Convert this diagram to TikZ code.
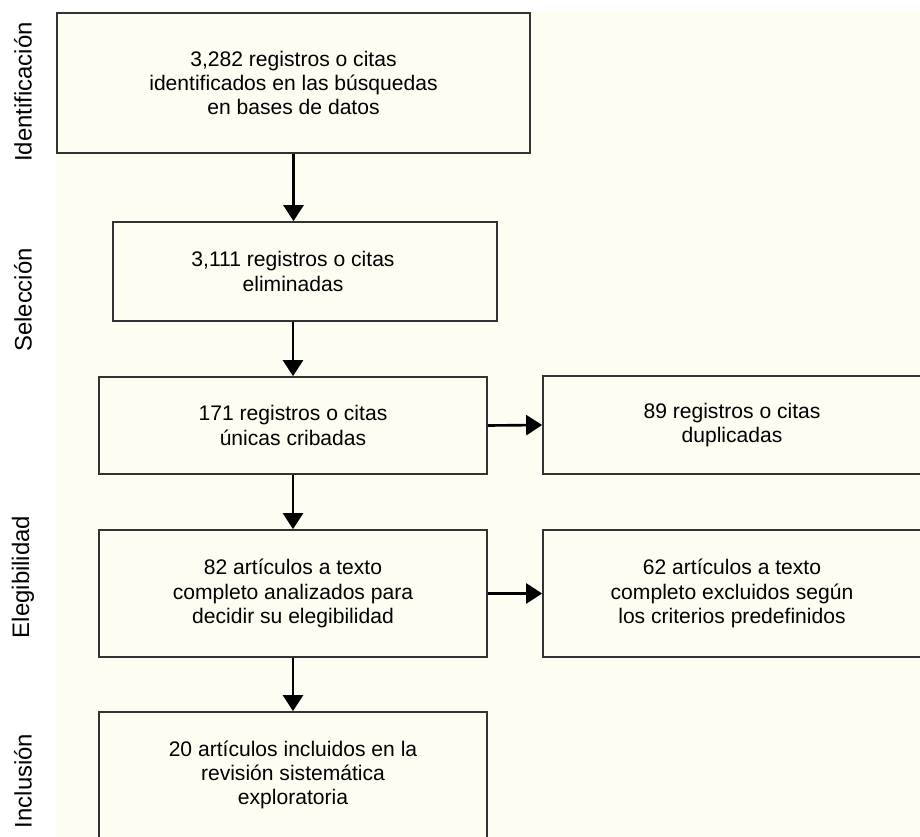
\documentclass[tikz,border=0pt]{standalone}
\usepackage{fontspec}
\setmainfont{Liberation Sans}
\usetikzlibrary{arrows.meta, positioning, calc}
\definecolor{creambg}{HTML}{FEFDF1}
\definecolor{boxline}{HTML}{333333}

\tikzset{
  stagetext/.style={align=center, inner sep=0pt, font=\fontsize{12}{13.8}\selectfont},
  stagebox/.style={stagetext, draw=boxline, line width=1pt, rectangle},
  phase/.style={rotate=90, inner sep=0pt, font=\fontsize{13.6}{16}\selectfont},
  flow/.style={-{Triangle[length=0.32cm, width=0.4cm]}, line width=1.5pt},
}

\begin{document}
\begin{tikzpicture}[x=0.02cm, y=-0.02cm]

% page and cream background
\useasboundingbox (0,0) rectangle (920,837);
\fill[creambg] (56,11) rectangle (920,837);

% left column of stages
\node (ident) [stagebox, minimum width=9.46cm, minimum height=2.8cm] at (293.5,83) {3,282 registros o citas\\identificados en las búsquedas\\en bases de datos};
\node (sel) [stagebox, minimum width=7.68cm, minimum height=1.98cm] at (305,271.5) {};
\node (seltxt) [stagetext] at ([xshift=-0.24cm]sel.center) {3,111 registros o citas\\eliminadas};
\node (scr) [stagebox, minimum width=7.76cm, minimum height=1.94cm] at (293,425.5) {171 registros o citas\\únicas cribadas};
\node (elig) [stagebox, minimum width=7.76cm, minimum height=2.54cm] at (293,593.5) {82 artículos a texto\\completo analizados para\\decidir su elegibilidad};
\node (incl) [stagebox, minimum width=7.76cm, minimum height=2.52cm] at (293,775) {20 artículos incluidos en la\\revisión sistemática\\exploratoria};

% right column
\node (dup) [stagebox, minimum width=7.56cm, minimum height=1.96cm] at (732,425) {89 registros o citas\\duplicadas};
\node (excl) [stagebox, minimum width=7.56cm, minimum height=2.54cm] at (732,593.5) {62 artículos a texto\\completo excluidos según\\los criterios predefinidos};

% phase labels
\node (lbident) [phase] at (23,92) {Identificación};
\node (lbsel) [phase] at (23,300) {Selección};
\node (lbelig) [phase] at (23,577) {Elegibilidad};
\node (lbincl) [phase] at (23,781) {Inclusión};

% arrows
\draw[flow] (ident.south) -- (ident.south |- sel.north);
\draw[flow] (scr.north |- sel.south) -- (scr.north);
\draw[flow] (scr.south) -- (elig.north);
\draw[flow] (elig.south) -- (incl.north);
\draw[flow] (scr.east) -- (dup.west);
\draw[flow] (elig.east) -- (excl.west);
\end{tikzpicture}
\end{document}
